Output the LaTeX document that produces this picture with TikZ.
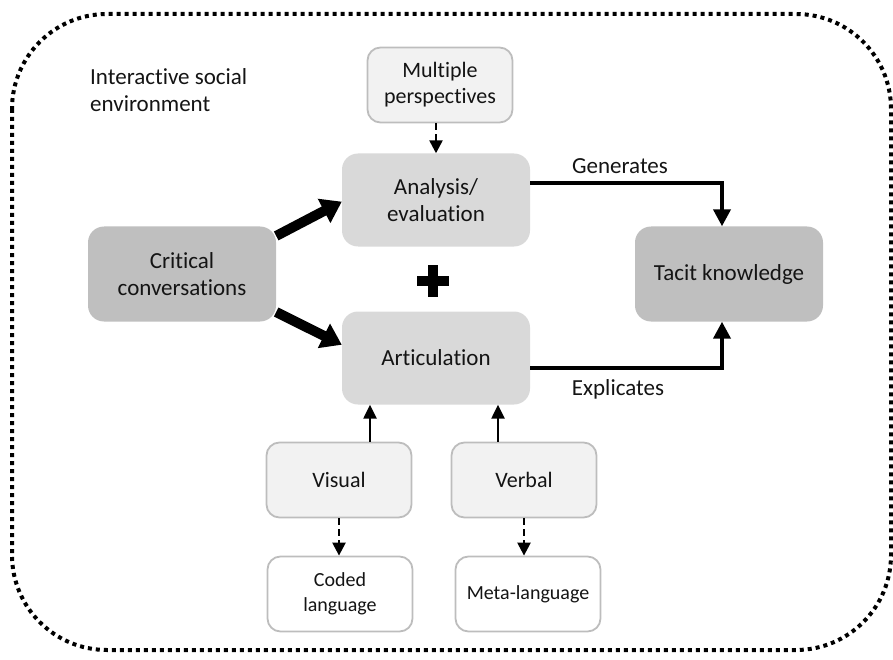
\documentclass[tikz,border=0pt]{standalone}
\usepackage{fontspec}
\setmainfont{Carlito}[Ligatures=NoCommon]
\usetikzlibrary{arrows.meta}
\definecolor{boxdark}{HTML}{BFBFBF}
\definecolor{boxmid}{HTML}{D9D9D9}
\definecolor{boxlight}{HTML}{F2F2F2}
\definecolor{boxline}{HTML}{BDBDBD}
\definecolor{ink}{HTML}{141414}
\begin{document}
\begin{tikzpicture}[x=1pt,y=-1pt,
  base/.style={rounded corners=16pt, align=center, inner sep=0pt, text=ink,
    font=\fontsize{23}{27}\selectfont},
  darkbox/.style={base, fill=boxdark, minimum width=188pt, minimum height=95pt},
  midbox/.style={base, fill=boxmid, minimum width=188pt, minimum height=93pt},
  lightbox/.style={base, rounded corners=13pt, fill=boxlight, draw=boxline, line width=1.8pt,
    minimum width=145pt, minimum height=75pt, font=\fontsize{22}{26}\selectfont},
  whitebox/.style={lightbox, fill=white, font=\fontsize{20}{25}\selectfont},
  plainlabel/.style={text=ink, inner sep=0pt, font=\fontsize{23}{27}\selectfont},
  bigarrow/.style={line width=10pt, -{Triangle[length=20pt,width=26pt]}},
  medarrow/.style={line width=4pt, -{Triangle[length=17pt,width=17pt]}},
  thinarrow/.style={line width=2.4pt, -{Triangle[length=14pt,width=13pt]}},
  dasharrow/.style={line width=2.4pt, dash pattern=on 7pt off 4pt, -{Triangle[length=13pt,width=13pt]}},
  envborder/.style={line width=4pt, dash pattern=on 4pt off 4pt, rounded corners=95pt}
]
\useasboundingbox (0,0) rectangle (893,660);

% surrounding environment
\draw[envborder] (12,14) rectangle (891,650);
\node[plainlabel, align=left, anchor=north west] (env) at (90,68) {Interactive social\\environment};

% boxes
\node[lightbox] (multi) at (440,85) {Multiple\\perspectives};
\node[midbox] (anal) at (436,200) {Analysis/\\evaluation};
\node[midbox] (artic) at (436,358) {Articulation};
\node[darkbox] (crit) at (182,274) {Critical\\conversations};
\node[darkbox] (tacit) at (729,274) {Tacit knowledge};
\node[lightbox] (vis) at (339,480) {Visual};
\node[lightbox] (verb) at (524,480) {Verbal};
\node[whitebox] (coded) at (340,594) {Coded\\language};
\node[whitebox] (meta) at (528,594) {Meta-language};

% plus sign between the two middle boxes
\coordinate (plus) at (433,281);
\fill ([xshift=-16pt,yshift=-5pt]plus) rectangle ([xshift=16pt,yshift=5pt]plus);
\fill ([xshift=-5pt,yshift=-16pt]plus) rectangle ([xshift=5pt,yshift=16pt]plus);

% connectors
\draw[bigarrow] (crit.22) -- (anal.181);
\draw[bigarrow] (crit.-22) -- (artic.172);

\draw[medarrow] (anal.10) -| ([xshift=-7pt]tacit.north);
\draw[medarrow] (artic.-6) -| ([xshift=-7pt]tacit.south);
\node[plainlabel] (gen) at (620,166) {Generates};
\node[plainlabel] (expl) at (618,389) {Explicates};

\draw[dasharrow] (anal.north |- multi.south) -- (anal.north);

\draw[thinarrow] ([xshift=31pt]vis.north) -- ([xshift=31pt]vis.north |- artic.south);
\draw[thinarrow] ([xshift=-26pt]verb.north) -- ([xshift=-26pt]verb.north |- artic.south);

\draw[dasharrow] (vis.south) -- (vis.south |- coded.north);
\draw[dasharrow] (verb.south) -- (verb.south |- meta.north);
\end{tikzpicture}
\end{document}
